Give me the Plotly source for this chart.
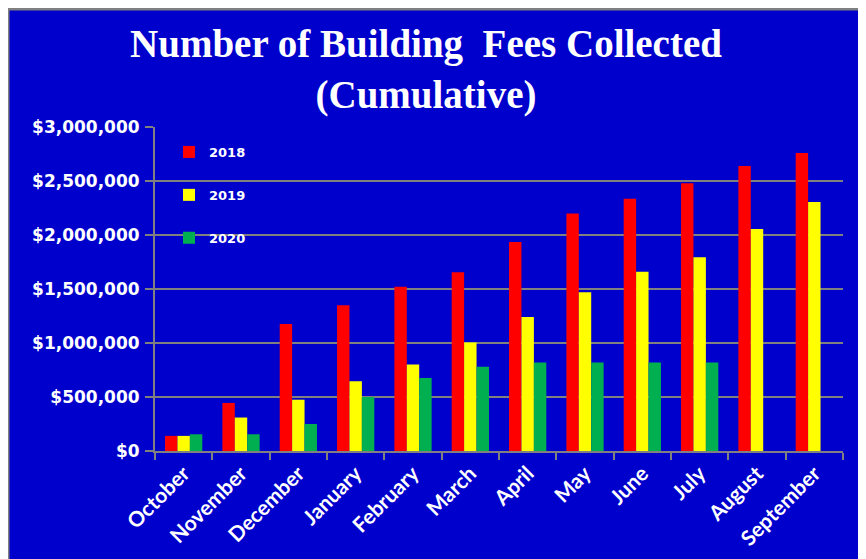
import plotly.graph_objects as go

months = ["October", "November", "December", "January", "February", "March",
          "April", "May", "June", "July", "August", "September"]
fees_2018 = [140000, 445000, 1175000, 1350000, 1520000, 1655000,
             1935000, 2200000, 2335000, 2480000, 2640000, 2760000]
fees_2019 = [140000, 310000, 475000, 645000, 800000, 1005000,
             1240000, 1470000, 1660000, 1795000, 2055000, 2305000]
fees_2020 = [155000, 155000, 250000, 500000, 675000, 780000,
             820000, 820000, 820000, 820000, None, None]
y_ticks = [0, 500000, 1000000, 1500000, 2000000, 2500000, 3000000]

# the page body keeps an 8px margin, so the figure starts at (8, 8)
W, H = 858, 551
L, R, T, B = 147, 23, 119, 108
BLUE = "#0000CC"
GRID = "#808080"


def px_x(px):
    return (px - L) / (W - L - R)


def px_y(py):
    return (H - B - py) / (H - T - B)


fig = go.Figure()
for name, vals, color in [("2018", fees_2018, "#FF0000"),
                          ("2019", fees_2019, "#FFFF00"),
                          ("2020", fees_2020, "#00B050")]:
    fig.add_trace(go.Bar(x=months, y=vals, name=name, legendgroup=name,
                         marker=dict(color=color, line=dict(width=0))))

fig.update_layout(
    width=W, height=H,
    margin=dict(l=L, r=R, t=T, b=B, autoexpand=False),
    paper_bgcolor=BLUE, plot_bgcolor=BLUE,
    barmode="group", bargap=0.35, bargroupgap=0,
    title=dict(text="Number of Building\u00a0 Fees Collected<br>(Cumulative)",
               x=418 / W, xanchor="center", y=1 - 49 / H, yanchor="top",
               font=dict(family="Liberation Serif", size=39, color="white", weight="bold")),
    legend=dict(x=px_x(161), y=px_y(129), xanchor="left", yanchor="top",
                bgcolor="rgba(0,0,0,0)", tracegroupgap=23,
                font=dict(family="DejaVu Sans", size=13, color="white", weight="bold")),
    xaxis=dict(showline=True, linecolor=GRID, linewidth=2, automargin=False,
               ticks="outside", tickson="boundaries", ticklen=7, tickcolor=GRID, tickwidth=2,
               tickangle=-45, showgrid=False,
               tickfont=dict(family="Lato", size=21, color="white", weight="bold")),
    yaxis=dict(range=[0, 3000000], tickvals=y_ticks, tickformat="$,.0f",
               showline=True, linecolor=GRID, linewidth=2, automargin=False,
               ticks="outside", ticklen=8, tickcolor=GRID, tickwidth=2,
               showgrid=True, gridcolor=GRID, gridwidth=2, zeroline=False,
               ticklabelstandoff=2,
               tickfont=dict(family="DejaVu Sans", size=17, color="white", weight="bold")),
    shapes=[
        dict(type="rect", xref="paper", yref="paper", x0=px_x(0), x1=px_x(1.5),
             y0=px_y(H), y1=px_y(0), fillcolor=GRID, line=dict(width=0), layer="above"),
        dict(type="rect", xref="paper", yref="paper", x0=px_x(0), x1=px_x(W),
             y0=px_y(2.5), y1=px_y(0), fillcolor=GRID, line=dict(width=0), layer="above"),
    ],
)

fig.write_html("out.html")
